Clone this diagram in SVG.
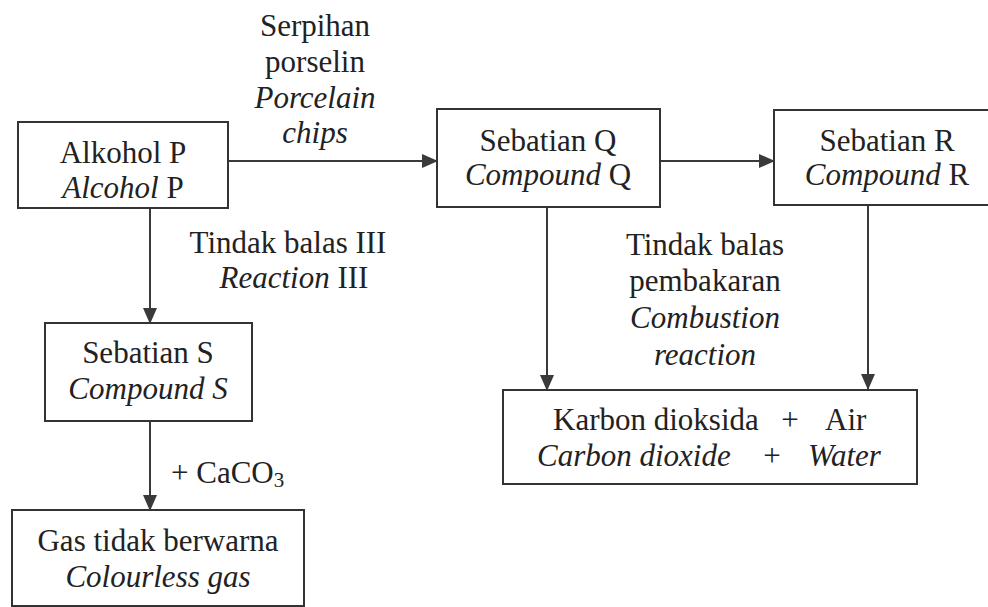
<svg xmlns="http://www.w3.org/2000/svg" width="988" height="607" viewBox="0 0 988 607">
<defs>
<style>
.box{fill:#fff;stroke:#333;stroke-width:2}
.ln{stroke:#3a3a3a;stroke-width:2;fill:none}
text{font-family:"Liberation Serif","Times New Roman",serif;font-size:31px;fill:#222}
.c{text-anchor:middle}
.i{font-style:italic}
</style>
<marker id="ah" markerUnits="userSpaceOnUse" markerWidth="16" markerHeight="14" refX="15" refY="7" orient="auto">
<path d="M0,0 L16,7 L0,14 Z" fill="#3a3a3a"/>
</marker>
</defs>
<rect width="988" height="607" fill="#fff"/>
<g id="connectors">
<line class="ln" x1="228" y1="161" x2="437" y2="161" marker-end="url(#ah)"/>
<line class="ln" x1="660" y1="161" x2="774" y2="161" marker-end="url(#ah)"/>
<line class="ln" x1="150" y1="208" x2="150" y2="323" marker-end="url(#ah)"/>
<line class="ln" x1="150" y1="421" x2="150" y2="510" marker-end="url(#ah)"/>
<line class="ln" x1="547" y1="207" x2="547" y2="390" marker-end="url(#ah)"/>
<line class="ln" x1="868" y1="205" x2="868" y2="389" marker-end="url(#ah)"/>
<g id="label-porcelain">
<text class="c" x="315" y="36">Serpihan</text>
<text class="c" x="315" y="72">porselin</text>
<text class="c i" x="315" y="108">Porcelain</text>
<text class="c i" x="315" y="143">chips</text>
</g>
<g id="label-reaction3">
<text class="c" x="288" y="253">Tindak balas III</text>
<text class="c" x="294" y="288"><tspan class="i">Reaction</tspan> III</text>
</g>
<g id="label-combustion">
<text class="c" x="705" y="255">Tindak balas</text>
<text class="c" x="705" y="291">pembakaran</text>
<text class="c i" x="705" y="328">Combustion</text>
<text class="c i" x="705" y="365">reaction</text>
</g>
<g id="label-caco3">
<text x="171" y="483">+ CaCO<tspan font-size="21" dy="4">3</tspan></text>
</g>
</g>
<g id="node-P">
<rect class="box" x="18" y="122" width="210" height="86"/>
<text class="c" x="123" y="163">Alkohol P</text>
<text class="c" x="123" y="198"><tspan class="i">Alcohol</tspan> P</text>
</g>
<g id="node-Q">
<rect class="box" x="437" y="109" width="223" height="98"/>
<text class="c" x="548" y="151">Sebatian Q</text>
<text class="c" x="548" y="185"><tspan class="i">Compound</tspan> Q</text>
</g>
<g id="node-R">
<rect class="box" x="774" y="110" width="230" height="95"/>
<text class="c" x="887" y="151">Sebatian R</text>
<text class="c" x="887" y="185"><tspan class="i">Compound</tspan> R</text>
</g>
<g id="node-S">
<rect class="box" x="45" y="323" width="207" height="98"/>
<text class="c" x="148" y="363">Sebatian S</text>
<text class="c i" x="148" y="399">Compound S</text>
</g>
<g id="node-gas">
<rect class="box" x="12" y="510" width="292" height="96"/>
<text class="c" x="158" y="551">Gas tidak berwarna</text>
<text class="c i" x="158" y="587">Colourless gas</text>
</g>
<g id="node-products">
<rect class="box" x="503" y="390" width="414" height="94"/>
<text x="553" y="430">Karbon dioksida</text>
<text class="c" x="790" y="430">+</text>
<text x="825" y="430">Air</text>
<text class="i" x="537" y="466">Carbon dioxide</text>
<text class="c" x="772" y="466">+</text>
<text class="i" x="808" y="466">Water</text>
</g>
</svg>
